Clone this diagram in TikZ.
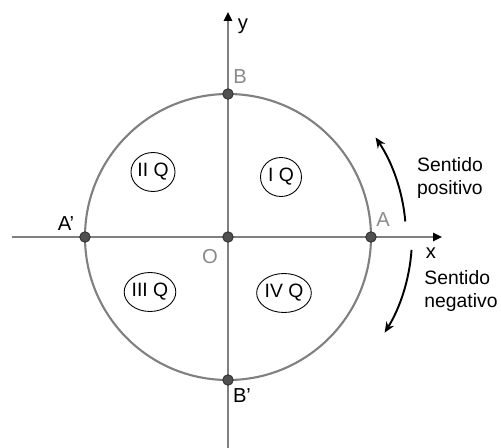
\documentclass[tikz,border=0pt]{standalone}
\usepackage{fontspec}
\setmainfont{Liberation Sans}
\usetikzlibrary{arrows.meta, shapes.geometric}
\definecolor{axgray}{HTML}{808080}
\definecolor{lblgray}{HTML}{8A8A8A}
\definecolor{ptfill}{HTML}{505050}
\definecolor{ptline}{HTML}{303030}

\begin{document}
\begin{tikzpicture}[x=0.02cm, y=0.02cm,
    pt/.style={circle, fill=ptfill, draw=ptline, line width=0.5pt, minimum size=0.21cm, inner sep=0pt},
    quad/.style={ellipse, draw=black, line width=0.5pt, inner sep=0pt, minimum width=0.82cm, minimum height=0.78cm, font=\fontsize{11}{13}\selectfont},
    lbl/.style={font=\fontsize{11.5}{13}\selectfont},
    sent/.style={font=\fontsize{11}{12.6}\selectfont, align=left},
    axis/.style={axgray, line width=1.4pt, -{Triangle[length=5pt, width=4.6pt, black]}},
    turn/.style={black, line width=1.1pt, -{Stealth[length=6pt, width=5pt]}}]
    \useasboundingbox (-228,-210) rectangle (273,237);
    % axes and circle
    \coordinate (xs) at (-216,0);
    \coordinate (xe) at (214,0);
    \coordinate (ys) at (0,-212);
    \coordinate (ye) at (0,225);
    \draw[axis] (xs) -- (xe);
    \draw[axis] (ys) -- (ye);
    \draw[axgray, line width=1.2pt] (0,0) circle (143);
    % points
    \node[pt] (O) at (0,0) {};
    \node[pt] (A) at (143,0) {};
    \node[pt] (B) at (0,143) {};
    \node[pt] (A') at (-143,0) {};
    \node[pt] (B') at (0,-143) {};
    % labels
    \node[lbl, text=lblgray] at (155,17) {A};
    \node[lbl, text=lblgray] at (12,160) {B};
    \node[lbl, text=lblgray] at (-18,-20) {O};
    \node[lbl] at (-162,13) {A\char"27};
    \node[lbl] at (14,-159) {B\char"27};
    \node[lbl] at (15,211) {y};
    \node[lbl] at (203,-16) {x};
    % quadrants
    \node[quad] (q1) at (53,60) {I Q};
    \node[quad] (q2) at (-75,65) {II Q};
    \node[quad] (q3) at (-78,-55) {III Q};
    \node[quad] (q4) at (56,-56) {IV Q};
    % sense of rotation
    \draw[turn] (5:178) arc (5:34:178);
    \draw[turn] (-4:184) arc (-4:-32:180);
    \node[sent] (pos) at (222,59) {Sentido\\positivo};
    \node[sent] (neg) at (233,-54) {Sentido\\negativo};
\end{tikzpicture}
\end{document}
